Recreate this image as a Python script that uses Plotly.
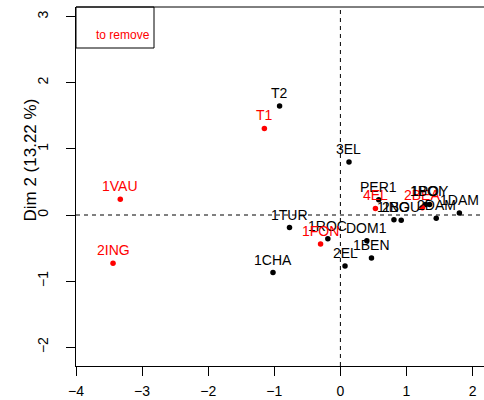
import plotly.graph_objects as go

# Individuals factor map: coordinates on the first two dimensions
names = ["T2", "T1", "3EL", "PER1", "4EL", "2BEA", "1BOI", "1POY", "1ING", "2BOU",
         "2DAM", "1DAM", "1TUR", "1ROC", "1FON", "DOM1", "1BEN", "2EL", "1CHA",
         "1VAU", "2ING"]
dim1 = [-0.92, -1.15, 0.13, 0.58, 0.53, 1.24, 1.29, 1.35, 0.81, 0.92,
        1.45, 1.80, -0.77, -0.19, -0.30, 0.40, 0.47, 0.07, -1.02,
        -3.33, -3.44]
dim2 = [1.65, 1.31, 0.80, 0.23, 0.10, 0.11, 0.16, 0.16, -0.07, -0.08,
        -0.05, 0.03, -0.19, -0.36, -0.44, -0.39, -0.65, -0.77, -0.87,
        0.24, -0.73]
# individuals flagged for removal are drawn in red
flagged = ["T1", "4EL", "2BEA", "1FON", "1VAU", "2ING"]

x_ticks = [-4, -3, -2, -1, 0, 1, 2]
y_ticks = [-2, -1, 0, 1, 2, 3]
y_title = "Dim 2 (13.22 %)"
legend_label = "to remove"

FONT = "Liberation Sans, Arial, sans-serif"
RED = "#FF0000"

W, H = 484, 400
ML, MR, MT, MB = 76, 0, 7, 34
pw, ph = W - ML - MR, H - MT - MB
scale = 66.1  # px per unit, equal aspect
x_range = [-4, -4 + pw / scale]
y_range = [-151 / scale, -151 / scale + ph / scale]

fig = go.Figure()

for is_red in (False, True):
    idx = [i for i, n in enumerate(names) if (n in flagged) == is_red]
    fig.add_trace(go.Scatter(
        x=[dim1[i] for i in idx], y=[dim2[i] for i in idx],
        mode="markers",
        marker=dict(size=5.5, color=RED if is_red else "black"),
        hoverinfo="skip", showlegend=False,
    ))

annotations = []
for n, x, y in zip(names, dim1, dim2):
    annotations.append(dict(
        x=x, y=y, xref="x", yref="y", text=n, showarrow=False,
        xanchor="center", yanchor="middle", yshift=13,
        font=dict(family=FONT, size=14, color=RED if n in flagged else "black"),
    ))

# axis title on the left
annotations.append(dict(
    x=(30 - ML) / pw, y=(H - MB - 160.5) / ph, xref="paper", yref="paper",
    text=y_title, textangle=-90, showarrow=False,
    xanchor="center", yanchor="middle",
    font=dict(family=FONT, size=17, color="black"),
))

# legend box text
annotations.append(dict(
    x=(122.7 - ML) / pw, y=(H - MB - 35) / ph, xref="paper", yref="paper",
    text=legend_label, showarrow=False, xanchor="center", yanchor="middle",
    font=dict(family=FONT, size=12, color=RED),
))

shapes = [
    # reference lines through the origin
    dict(type="line", xref="x", yref="paper", x0=0, x1=0, y0=0, y1=1,
         line=dict(color="black", width=1, dash="4px,4px")),
    dict(type="line", xref="paper", yref="y", x0=0, x1=1, y0=0, y1=0,
         line=dict(color="black", width=1, dash="4px,4px")),
    # top border of the plot box
    dict(type="line", xref="paper", yref="paper", x0=0, x1=1, y0=1, y1=1,
         line=dict(color="black", width=1)),
    # legend frame
    dict(type="rect", xref="paper", yref="paper",
         x0=0, x1=(154 - ML) / pw, y0=(H - MB - 48) / ph, y1=1,
         line=dict(color="black", width=1), fillcolor="white", layer="below"),
]

fig.update_layout(
    width=W, height=H,
    margin=dict(l=ML, r=MR, t=MT, b=MB, pad=0, autoexpand=False),
    paper_bgcolor="white", plot_bgcolor="white",
    font=dict(family=FONT, size=14, color="black"),
    annotations=annotations, shapes=shapes,
    xaxis=dict(range=x_range, tickvals=x_ticks, showgrid=False, zeroline=False,
               automargin=False,
               showline=True, linecolor="black", linewidth=1,
               ticks="outside", ticklen=9, tickcolor="black",
               ticklabelstandoff=3, tickfont=dict(size=14)),
    yaxis=dict(range=y_range, tickvals=y_ticks, showgrid=False, zeroline=False,
               automargin=False,
               showline=True, linecolor="black", linewidth=1,
               ticks="outside", ticklen=9, tickcolor="black", tickangle=-90,
               ticklabelstandoff=12, tickfont=dict(size=14)),
)

fig.write_html("out.html")
